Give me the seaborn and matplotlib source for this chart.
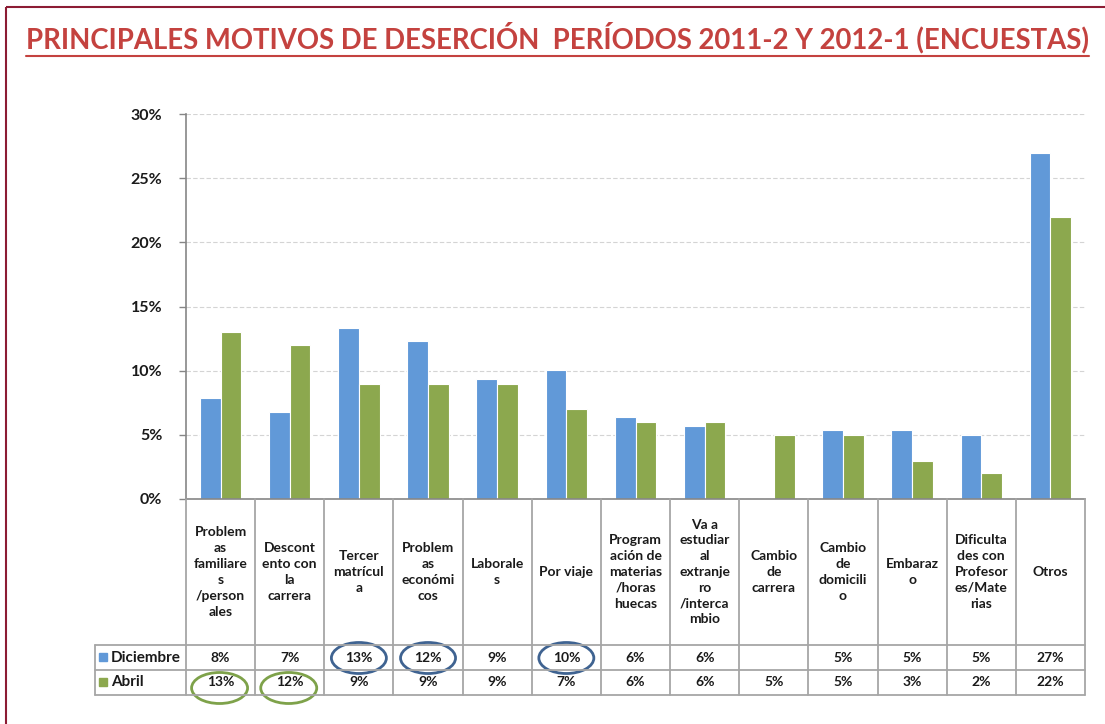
import numpy as np
import pandas as pd
import seaborn as sns
import matplotlib.pyplot as plt
from matplotlib import font_manager
from matplotlib.patches import Ellipse, Rectangle

# --- datos (porcentaje de encuestados) ---
motivos = ["Problemas familiares/personales", "Descontento con la carrera",
           "Tercer matrícula", "Problemas económicos", "Laborales", "Por viaje",
           "Programación de materias/horas huecas",
           "Va a estudiar al extranjero/intercambio", "Cambio de carrera",
           "Cambio de domicilio", "Embarazo",
           "Dificultades con Profesores/Materias", "Otros"]
# etiquetas tal como aparecen partidas en la tabla
etiquetas = ["Problem\nas\nfamiliare\ns\n/person\nales", "Descont\nento con\nla\ncarrera",
             "Tercer\nmatrícul\na", "Problem\nas\neconómi\ncos", "Laborale\ns",
             "Por viaje", "Program\nación de\nmaterias\n/horas\nhuecas",
             "Va a\nestudiar\nal\nextranje\nro\n/interca\nmbio", "Cambio\nde\ncarrera",
             "Cambio\nde\ndomicili\no", "Embaraz\no",
             "Dificulta\ndes con\nProfesor\nes/Mate\nrias", "Otros"]
diciembre = [7.9, 6.8, 13.3, 12.3, 9.35, 10.05, 6.4, 5.7, np.nan, 5.35, 5.35, 5.0, 27.0]
abril = [13.0, 12.0, 9.0, 9.0, 9.0, 7.0, 6.0, 6.0, 5.0, 5.0, 3.0, 2.0, 22.0]
series = ["Diciembre", "Abril"]
colores = {"Diciembre": "#6199D8", "Abril": "#8CA84E"}
resaltar_dic = [2, 3, 5]   # celdas con óvalo azul
resaltar_abr = [0, 1]      # celdas con óvalo verde

titulo = "PRINCIPALES MOTIVOS DE DESERCIÓN  PERÍODOS 2011-2 Y 2012-1 (ENCUESTAS)"

df = pd.DataFrame({
    "motivo": motivos * 2,
    "serie": ["Diciembre"] * len(motivos) + ["Abril"] * len(motivos),
    "valor": diciembre + abril,
})

sns.set_style("white")
disponibles = {f.name for f in font_manager.fontManager.ttflist}
cuerpo = "Lato" if "Lato" in disponibles else "DejaVu Sans"
angosta = "Liberation Sans Narrow" if "Liberation Sans Narrow" in disponibles else cuerpo
plt.rcParams["font.family"] = [cuerpo, "DejaVu Sans"]

W, H = 1105, 724
fig = plt.figure(figsize=(W / 100, H / 100), dpi=100)

x0, x1, ytop, ybot = 186, 1085, 114, 499
ax = fig.add_axes([x0 / W, 1 - ybot / H, (x1 - x0) / W, (ybot - ytop) / H])
sns.barplot(data=df, x="motivo", y="valor", hue="serie", hue_order=series,
            palette=colores, saturation=1, width=0.6, edgecolor="white",
            linewidth=0.8, legend=False, ax=ax)
ax.set_xlim(-0.5, len(motivos) - 0.5)
ax.set_ylim(0, 30)
ax.set_yticks(range(0, 31, 5))
ax.set_yticklabels([f"{v}%" for v in range(0, 31, 5)], fontsize=11.5,
                   fontweight="bold", color="#1a1a1a")
ax.set_xticks([])
ax.set_xlabel("")
ax.set_ylabel("")
ax.yaxis.grid(True, color="#D4D4D4", linestyle=(0, (4, 2)), linewidth=0.8)
ax.set_axisbelow(True)
ax.tick_params(axis="y", length=5, width=1, color="#868686", pad=12, left=True)
for s in ["top", "right"]:
    ax.spines[s].set_visible(False)
for s in ["left", "bottom"]:
    ax.spines[s].set_color("#868686")
    ax.spines[s].set_linewidth(1.2)

# --- capa en coordenadas de píxel: marco, título y tabla de datos ---
ov = fig.add_axes([0, 0, 1, 1], zorder=5)
ov.set_xlim(0, W)
ov.set_ylim(H, 0)
ov.axis("off")
ov.patch.set_alpha(0)

ov.plot([6, W], [7, 7], color="#8C1C34", lw=1.5, solid_capstyle="butt")
ov.plot([6, 6], [7, H], color="#8C1C34", lw=1.5, solid_capstyle="butt")

t = ov.text(557, 38, titulo, ha="center", va="center", color="#C4423F",
            fontsize=19.8, fontweight="bold", family=[angosta, "DejaVu Sans"])
fig.canvas.draw()
bb = t.get_window_extent().transformed(ov.transData.inverted())
ov.plot([bb.x0, bb.x1], [bb.y0 + 2, bb.y0 + 2], color="#C4423F", lw=1.5)

ncol = len(motivos)
colw = (x1 - x0) / ncol
xl = 95
r_dic, r_abr, r_end = 645, 670, 695
gris = "#A6A6A6"
for y in [r_dic, r_abr, r_end]:
    ov.plot([xl, x1], [y, y], color=gris, lw=1.3)
ov.plot([xl, xl], [r_dic, r_end], color=gris, lw=1.3)
for i in range(ncol + 1):
    xv = x0 + i * colw
    ov.plot([xv, xv], [ybot, r_end], color=gris, lw=1.3)

for i, lab in enumerate(etiquetas):
    cx = x0 + (i + 0.5) * colw
    ov.text(cx, (ybot + r_dic) / 2, lab, ha="center", va="center",
            fontsize=10, fontweight="bold", color="#1a1a1a", linespacing=1.38)
    for val, yc in [(diciembre[i], (r_dic + r_abr) / 2), (abril[i], (r_abr + r_end) / 2)]:
        if not np.isnan(val):
            ov.text(cx, yc, f"{val:.0f}%", ha="center", va="center",
                    fontsize=10, fontweight="bold", color="#1a1a1a")

for nombre, yc in zip(series, [(r_dic + r_abr) / 2, (r_abr + r_end) / 2]):
    ov.add_patch(Rectangle((99, yc - 4.5), 8, 8, color=colores[nombre]))
    ov.text(111, yc, nombre, ha="left", va="center", fontsize=11,
            fontweight="bold", color="#1a1a1a")

for i in resaltar_dic:
    ov.add_patch(Ellipse((x0 + (i + 0.5) * colw, 658), 55, 31, fill=False,
                         edgecolor="#3F6391", lw=2))
for i in resaltar_abr:
    ov.add_patch(Ellipse((x0 + (i + 0.5) * colw - 1, 688), 56, 31, fill=False,
                         edgecolor="#7EA24A", lw=2))

fig.savefig("out.png", dpi=100)
